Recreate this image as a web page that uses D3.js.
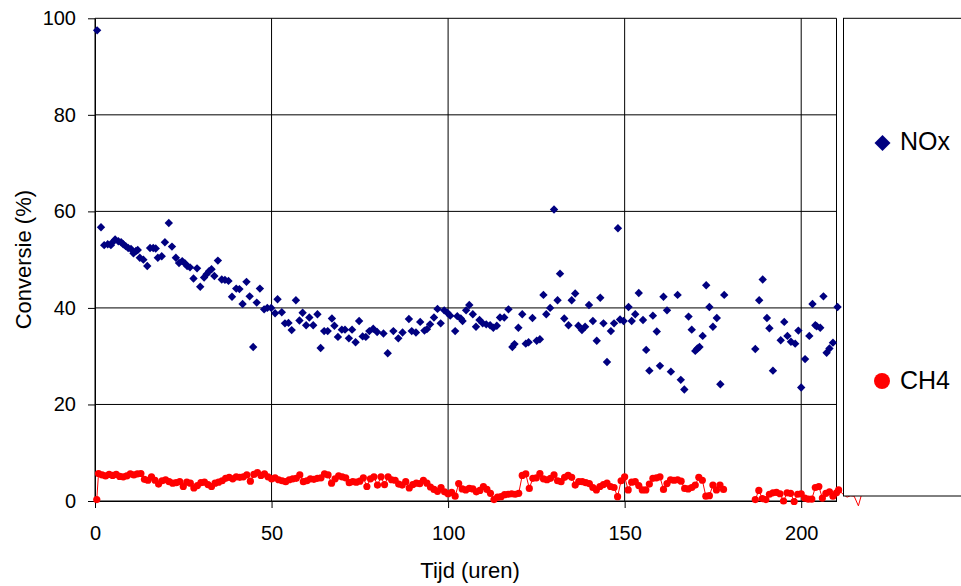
<!DOCTYPE html>
<html>
<head>
<meta charset="utf-8">
<script src="https://cdn.jsdelivr.net/npm/d3@7"></script>
<style>
  html, body { margin: 0; padding: 0; background: #fff; }
  svg { display: block; font-family: "Liberation Sans", Arial, Helvetica, sans-serif; }
</style>
</head>
<body>
<svg id="chart" width="961" height="586"></svg>
<script>
// ---------- data ----------
const xTicks = [0, 50, 100, 150, 200];
const yTicks = [0, 20, 40, 60, 80, 100];
const xTitle = "Tijd (uren)";
const yTitle = "Conversie (%)";
const seriesNames = ["NOx", "CH4"];
const seriesColors = ["#000080", "#ff0000"];

// NOx conversion [time (h), conversion (%)]
const noxPoints = [
  [0.6,97.5],[1.7,56.7],[2.6,53.0],[3.6,53.2],[4.5,53.0],[4.7,53.4],[5.7,54.2],[6.6,53.8],[7.4,53.6],[8.0,53.2],
  [8.7,52.8],[9.4,52.4],[10.2,52.2],[10.9,51.3],[11.6,51.8],[12.1,52.0],[12.7,50.4],[13.7,50.0],[14.8,48.7],[15.6,52.4],
  [16.5,52.4],[17.2,52.3],[17.8,50.4],[18.9,50.7],[19.8,53.6],[20.9,57.6],[21.8,52.7],[22.9,50.4],[23.8,49.3],[24.7,49.7],
  [25.5,49.2],[26.1,48.7],[26.9,48.4],[27.9,46.1],[28.9,48.2],[29.8,44.4],[30.9,46.3],[31.6,47.0],[32.3,47.6],[33.0,48.0],
  [33.8,46.6],[34.8,49.8],[35.9,45.9],[36.8,45.8],[37.8,45.6],[38.8,42.3],[40.0,44.0],[40.9,43.9],[41.8,40.8],[42.9,45.4],
  [43.8,42.4],[44.8,31.9],[45.8,41.1],[46.7,44.0],[47.9,39.7],[48.8,40.0],[49.9,40.0],[51.0,38.9],[51.7,41.8],[52.9,39.1],
  [53.8,36.8],[54.8,36.9],[55.7,35.4],[56.9,41.6],[57.9,37.4],[58.8,39.0],[59.8,36.4],[60.7,38.0],[61.8,36.4],[63.0,38.7],
  [63.9,31.7],[64.9,35.2],[65.9,35.2],[67.1,37.8],[67.8,36.3],[68.8,34.0],[69.9,35.5],[70.8,35.5],[71.9,33.7],[72.8,35.5],
  [73.8,32.9],[74.8,37.3],[75.8,34.1],[76.7,34.0],[77.7,35.2],[78.8,35.7],[79.9,35.0],[81.7,34.7],[82.9,30.6],[84.5,35.2],
  [85.9,33.7],[87.1,34.9],[88.9,37.7],[89.7,35.2],[90.9,34.9],[92.1,37.1],[93.3,35.3],[94.0,35.6],[94.9,36.6],[96.0,38.0],
  [97.0,39.8],[97.9,36.8],[98.9,39.5],[99.8,39.0],[100.6,38.4],[102.0,35.2],[102.6,38.3],[103.6,37.8],[104.1,37.3],[105.1,39.5],
  [106.0,40.6],[107.0,38.7],[107.9,36.1],[108.9,37.5],[109.8,36.8],[110.8,36.6],[111.9,36.4],[112.8,35.9],[113.8,36.3],[114.7,38.0],
  [115.9,38.0],[117.1,39.7],[118.2,31.9],[118.8,32.5],[119.9,35.9],[121.0,38.7],[122.0,32.6],[122.8,32.9],[123.9,37.9],[125.1,33.2],
  [126.0,33.5],[127.0,42.7],[127.8,38.7],[128.9,40.0],[130.0,60.4],[131.0,41.6],[131.7,47.1],[132.9,37.8],[134.1,36.4],[135.0,41.6],
  [136.0,43.0],[136.9,36.3],[137.9,35.4],[138.8,36.1],[139.9,40.6],[141.0,37.3],[142.1,33.2],[143.1,42.1],[144.0,36.8],[145.0,28.8],
  [146.1,35.2],[147.0,36.8],[148.1,56.5],[148.7,37.6],[149.7,37.3],[151.1,40.2],[152.0,37.3],[153.0,38.7],[154.0,43.1],[155.2,37.5],
  [156.1,31.3],[157.0,27.0],[158.0,38.4],[159.1,35.1],[160.0,28.0],[161.0,42.3],[162.0,39.5],[163.1,26.8],[165.0,42.7],[165.9,25.1],
  [166.9,23.1],[168.1,38.2],[169.0,35.5],[170.0,31.1],[170.6,31.6],[171.2,31.9],[172.1,34.2],[173.1,44.7],[174.0,40.2],[175.0,36.1],
  [176.1,37.9],[177.1,24.2],[178.2,42.7],
  [187.0,31.5],[188.1,41.6],[189.1,45.9],[190.3,37.9],[191.0,35.8],[192.0,27.0],[194.2,33.3],[195.2,37.1],[196.1,34.2],[197.1,33.0],
  [198.3,32.6],[199.2,35.3],[200.0,23.5],[201.1,29.4],[202.3,34.2],[203.2,40.8],[204.0,36.4],[204.4,36.2],[205.4,35.9],[206.3,42.4],
  [207.2,30.7],[208.0,31.6],[209.0,32.8],[210.3,40.2]
];

// CH4 conversion [time (h), conversion (%)]; null marks the measurement gap
const ch4Points = [
  [0.5,0.3],[1,5.7],[2,5.4],[3,5.2],[4,5.5],[5,5.3],[6,5.5],[7,5.1],[8,5.0],[9,5.2],
  [10,5.6],[11,5.4],[12,5.6],[13,5.7],[14,4.5],[15,4.3],[16,5.0],[17,4.3],[18,3.5],[19,4.2],
  [20,4.4],[21,4.0],[22,3.7],[23,3.8],[24,4.0],[25,3.0],[26,3.9],[27,3.7],[28,2.7],[29,3.2],
  [30,3.8],[31,3.9],[32,3.4],[33,3.0],[34,3.7],[35,3.9],[36,4.2],[37,4.7],[38,4.9],[39,4.6],
  [40,5.0],[41,4.9],[42,5.0],[43,5.4],[44,4.1],[45,5.5],[46,5.9],[47,5.3],[48,5.6],[49,5.0],
  [50,4.6],[51,4.8],[52,4.4],[53,4.2],[54,4.0],[55,4.4],[56,4.6],[57,4.7],[58,5.4],[59,4.0],
  [60,4.2],[61,4.6],[62,4.5],[63,4.7],[64,4.8],[65,5.6],[66,5.4],[67,3.7],[68,4.6],[69,5.2],
  [70,5.0],[71,4.8],[72,3.8],[73,4.0],[74,3.9],[75,4.1],[76,4.8],[77,3.0],[78,4.6],[79,5.0],
  [80,3.3],[81,5.0],[82,3.4],[83,5.0],[84,4.4],[85,4.3],[86,3.5],[87,3.3],[88,4.0],[89,2.7],
  [90,3.4],[91,3.7],[92,3.6],[93,4.3],[94,3.7],[95,2.9],[96,2.4],[97,2.0],[98,2.8],[99,1.9],
  [100,1.5],[101,1.8],[102,1.0],[103,3.6],[104,2.5],[105,2.3],[106,2.6],[107,2.5],[108,1.9],[109,2.2],
  [110,3.0],[111,2.4],[112,1.6],[113,0.3],[114,0.8],[115,0.9],[116,1.3],[117,1.4],[118,1.5],[119,1.4],
  [120,1.6],[121,5.3],[122,5.6],[123,2.6],[124,4.7],[125,4.8],[126,5.7],[127,4.6],[128,4.4],[129,4.7],
  [130,5.4],[131,4.2],[132,4.0],[133,4.9],[134,5.3],[135,4.9],[136,3.3],[137,4.0],[138,4.0],[139,3.8],
  [140,3.6],[141,2.8],[142,2.3],[143,3.0],[144,3.4],[145,3.7],[146,3.0],[147,2.8],[148,0.9],[149,4.2],
  [150,5.0],[151,2.3],[152,3.9],[153,4.0],[154,3.2],[155,2.3],[156,2.3],[157,3.5],[158,4.7],[159,4.8],
  [160,5.0],[161,2.4],[162,3.6],[163,4.4],[164,4.3],[165,4.4],[166,4.1],[167,2.6],[168,2.5],[169,2.8],
  [170,3.3],[171,4.9],[172,4.3],[173,1.0],[174,1.1],[175,3.3],[176,2.3],[177,3.3],[178,2.4],
  [182,null],
  [187,0.3],[188,2.2],[189,0.5],[190,0.3],[191,1.4],[192,1.7],[193,1.8],[194,1.5],[195,0.0],[196,1.7],
  [197,1.6],[198,-0.1],[199,1.4],[200,1.5],[201,0.6],[202,0.4],[203,0.4],[204,2.8],[205,3.0],[206,0.6],
  [207,1.6],[208,1.9],[209,1.0],[210,1.7],[210.6,2.3],
  [212,1.3],[213,0.8],[214,1.1],[215,1.0],[216.2,-1.0],[217,1.1],[218,2.0]
];

// ---------- chart ----------
const svg = d3.select("#chart");
const x = d3.scaleLinear().domain([0, 210]).range([95, 836.5]);
const y = d3.scaleLinear().domain([0, 100]).range([501, 18.3]);
const xMax = 210;

// gridlines
const grid = svg.append("g").attr("stroke", "#000").attr("stroke-width", 1);
grid.selectAll("line.h").data(yTicks).enter().append("line")
  .attr("x1", x(0)).attr("x2", x(xMax))
  .attr("y1", d => y(d)).attr("y2", d => y(d));
grid.selectAll("line.v").data(xTicks).enter().append("line")
  .attr("x1", d => x(d)).attr("x2", d => x(d))
  .attr("y1", y(0)).attr("y2", y(100));
grid.append("line").attr("x1", x(xMax)).attr("x2", x(xMax)).attr("y1", y(0)).attr("y2", y(100));

// axes
const yAxis = svg.append("g").attr("transform", `translate(${x(0)},0)`)
  .call(d3.axisLeft(y).tickValues(yTicks).tickSize(7).tickSizeOuter(0).tickPadding(12));
const xAxis = svg.append("g").attr("transform", `translate(0,${y(0)})`)
  .call(d3.axisBottom(x).tickValues(xTicks).tickSize(7).tickSizeOuter(0).tickPadding(18));
[xAxis, yAxis].forEach(a => {
  a.selectAll("text").attr("font-size", 20).attr("fill", "#000")
    .attr("font-family", '"Liberation Sans", Arial, sans-serif');
  a.selectAll("line").attr("stroke", "#000");
  a.select(".domain").attr("stroke", "#000");
});

// axis titles
svg.append("text").attr("x", 470).attr("y", 578).attr("text-anchor", "middle")
  .attr("font-size", 22).text(xTitle);
svg.append("text").attr("transform", `translate(31,${(y(0) + y(100)) / 2}) rotate(-90)`)
  .attr("text-anchor", "middle").attr("font-size", 22).text(yTitle);

// CH4 series (line + markers)
const ch4 = ch4Points.map(d => ({ t: d[0], v: d[1] }));
const line = d3.line().defined(d => d.v !== null).x(d => x(d.t)).y(d => y(d.v));
svg.append("path").datum(ch4).attr("d", line)
  .attr("fill", "none").attr("stroke", seriesColors[1]).attr("stroke-width", 1);
svg.append("g").selectAll("circle")
  .data(ch4.filter(d => d.v !== null && d.t <= 210.6)).enter().append("circle")
  .attr("cx", d => x(d.t)).attr("cy", d => y(d.v)).attr("r", 3.6)
  .attr("fill", seriesColors[1]);

// NOx series (diamond markers)
const diamond = r => `M0,${-r}L${r},0L0,${r}L${-r},0Z`;
svg.append("g").selectAll("path")
  .data(noxPoints).enter().append("path")
  .attr("transform", d => `translate(${x(d[0])},${y(d[1])})`)
  .attr("d", diamond(4.2)).attr("fill", seriesColors[0]);

// legend
svg.append("rect").attr("x", 843.5).attr("y", y(100)).attr("width", 200).attr("height", 496 - y(100))
  .attr("fill", "#fff").attr("stroke", "#000").attr("stroke-width", 1);
const leg = svg.append("g");
leg.append("path").attr("transform", "translate(882.5,143)").attr("d", diamond(8)).attr("fill", seriesColors[0]);
leg.append("text").attr("x", 900).attr("y", 150).attr("font-size", 25).text(seriesNames[0]);
leg.append("circle").attr("cx", 882).attr("cy", 381).attr("r", 8).attr("fill", seriesColors[1]);
leg.append("text").attr("x", 900).attr("y", 389).attr("font-size", 25).text(seriesNames[1]);
</script>
</body>
</html>
